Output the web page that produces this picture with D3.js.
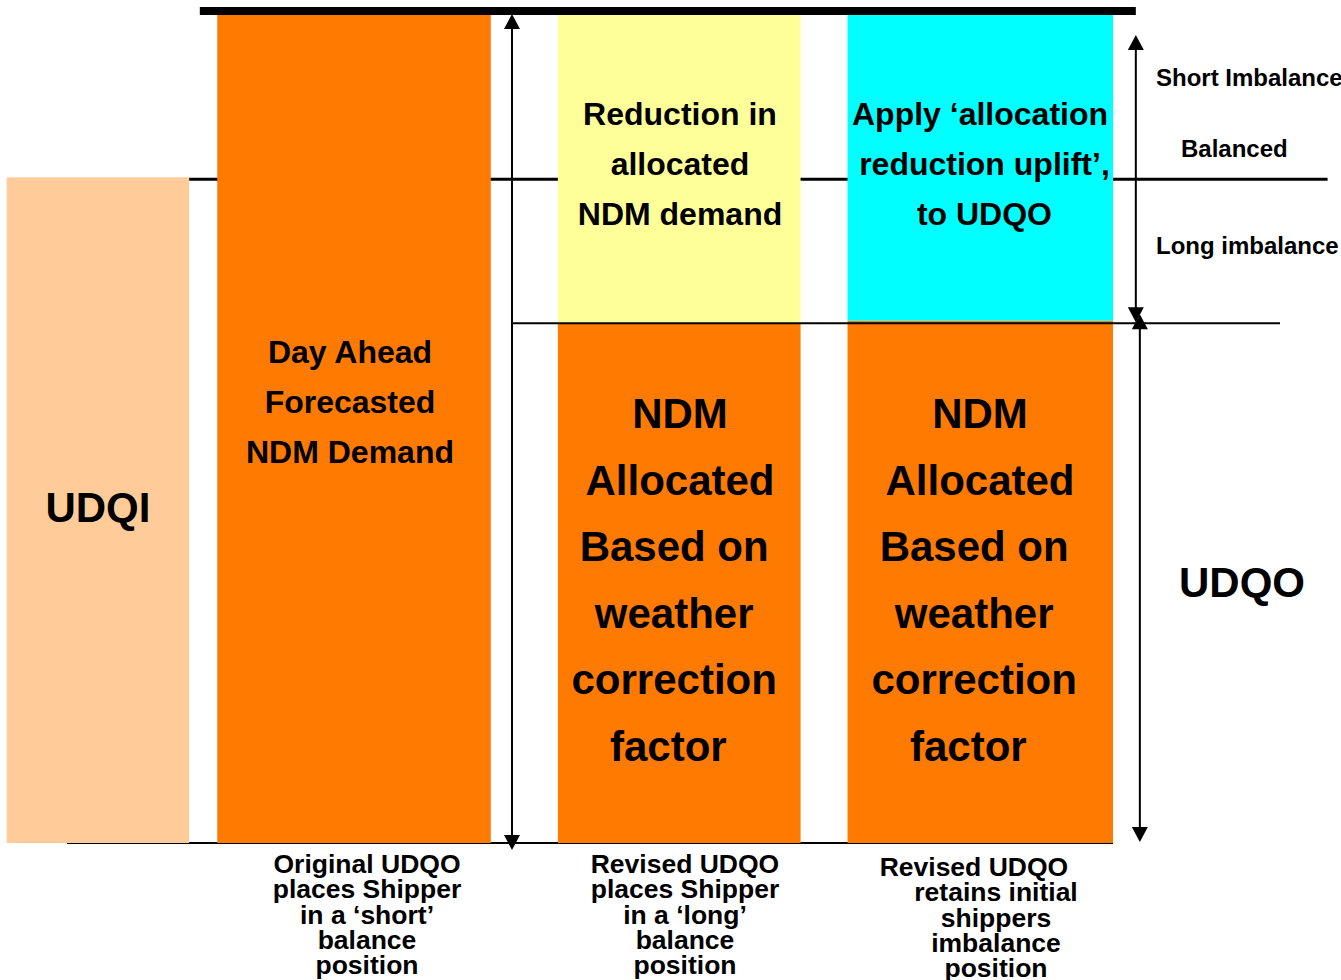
<!DOCTYPE html>
<html>
<head>
<meta charset="utf-8">
<script src="https://cdn.jsdelivr.net/npm/d3@7"></script>
<style>
  html, body { margin: 0; padding: 0; background: #fff; }
  svg { display: block; }
  text { font-family: "Liberation Sans", Arial, sans-serif; font-weight: bold; fill: #000; white-space: pre; }
</style>
</head>
<body>
<svg id="chart" width="1341" height="980"></svg>
<script>
// ---- data (levels in % of the day-ahead forecast) ----
const columns = ["UDQI", "Forecast", "Revised", "Uplifted"];
const columnStart = [0.5, 16.2, 41.6, 63.2];   // horizontal layout units (0-100)
const columnEnd   = [14.1, 36.6, 59.7, 83.0];
// stacked segments: [column, from level, to level, kind]
const segColumn = ["UDQI", "Forecast", "Revised", "Revised", "Uplifted", "Uplifted"];
const segFrom   = [0, 0, 0, 62.7, 0, 63.0];
const segTo     = [80.3, 100, 62.7, 100, 63.0, 100];
const segKind   = ["udqi", "demand", "demand", "reduction", "demand", "uplift"];
const balancedLevel = 80.3;
const allocatedLevel = 62.7;

const topLabels = [
  ["Day Ahead", "Forecasted", "NDM Demand"],
  ["Reduction in", "allocated", "NDM demand"],
  ["Apply \u2018allocation", " reduction uplift\u2019,", " to UDQO"]
];
const bigLines = ["NDM", "Allocated", "Based on ", "weather ", "correction ", "factor  "];
const sideLabels = ["Short Imbalance", "Balanced", "Long imbalance"];
const bottomLabels = [
  ["Original UDQO", "places Shipper", "in a \u2018short\u2019", "balance", "position"],
  ["Revised UDQO", "places Shipper", "in a \u2018long\u2019", "balance", "position"],
  ["Revised UDQO      ", "retains initial", "shippers", "imbalance", "position"]
];

// ---- scales ----
const svg = d3.select("#chart");
const x = d3.scaleLinear().domain([0, 100]).range([0, 1341]);
const y = d3.scaleLinear().domain([0, 100]).range([843, 14]);
const colIdx = c => columns.indexOf(c);
const colors = { udqi: "#FFCC99", demand: "#FF7A00", reduction: "#FFFF99", uplift: "#00FFFF" };

// balanced line (behind bars)
svg.append("line")
  .attr("x1", x(14.1)).attr("x2", x(99.0))
  .attr("y1", y(balancedLevel) + 2).attr("y2", y(balancedLevel) + 2)
  .attr("stroke", "#000").attr("stroke-width", 3);

// bottom baseline
svg.append("line")
  .attr("x1", x(5.0)).attr("x2", x(83.0))
  .attr("y1", y(0)).attr("y2", y(0))
  .attr("stroke", "#000").attr("stroke-width", 2);

// bars
const segs = segColumn.map((c, i) => ({ c, from: segFrom[i], to: segTo[i], kind: segKind[i] }));
svg.selectAll("rect.seg").data(segs).join("rect")
  .attr("class", "seg")
  .attr("x", d => x(columnStart[colIdx(d.c)]))
  .attr("width", d => x(columnEnd[colIdx(d.c)]) - x(columnStart[colIdx(d.c)]))
  .attr("y", d => y(d.to))
  .attr("height", d => y(d.from) - y(d.to))
  .attr("fill", d => colors[d.kind]);

// top thick line
svg.append("line")
  .attr("x1", x(14.9)).attr("x2", x(84.7))
  .attr("y1", y(100) - 3).attr("y2", y(100) - 3)
  .attr("stroke", "#000").attr("stroke-width", 8);

// allocated level line
svg.append("line")
  .attr("x1", x(38.2)).attr("x2", x(95.45))
  .attr("y1", y(allocatedLevel)).attr("y2", y(allocatedLevel))
  .attr("stroke", "#000").attr("stroke-width", 2);

// arrows
function arrow(px, yTop, yBot, heads) {
  const g = svg.append("g");
  g.append("line").attr("x1", px).attr("x2", px).attr("y1", yTop + 4).attr("y2", yBot - 4)
    .attr("stroke", "#000").attr("stroke-width", 2);
  const hw = 8, hl = 15;
  if (heads.top) g.append("path").attr("d", `M${px},${yTop} L${px - hw},${yTop + hl} L${px + hw},${yTop + hl} Z`).attr("fill", "#000");
  if (heads.bot) g.append("path").attr("d", `M${px},${yBot} L${px - hw},${yBot - hl} L${px + hw},${yBot - hl} Z`).attr("fill", "#000");
}
arrow(x(38.18), y(100), y(0) + 7, { top: true, bot: true });
arrow(x(84.7), 35, y(allocatedLevel) - 1, { top: true, bot: true });
arrow(x(85.0), y(allocatedLevel) - 9, y(0) - 1, { top: true, bot: true });

// labels
function center(i) { return (x(columnStart[i]) + x(columnEnd[i])) / 2; }

svg.append("text").attr("x", center(0) + 0).attr("y", 522)
  .attr("text-anchor", "middle").attr("font-size", 42).text("UDQI");

svg.append("text").attr("x", 1242).attr("y", 597)
  .attr("text-anchor", "middle").attr("font-size", 42).text("UDQO");

const topCenters = [350, 680, 980];
const topBase = [363, 125, 125];
topLabels.forEach((lines, k) => {
  lines.forEach((t, j) => {
    svg.append("text").attr("x", topCenters[k]).attr("y", topBase[k] + 50 * j)
      .attr("text-anchor", "middle").attr("font-size", 32).text(t);
  });
});

[680, 980].forEach(cx => {
  bigLines.forEach((t, j) => {
    svg.append("text").attr("x", cx).attr("y", 428 + 66.6 * j)
      .attr("text-anchor", "middle").attr("font-size", 42).text(t);
  });
});

const sideX = [1156, 1181, 1156];
const sideY = [86, 157, 254];
sideLabels.forEach((t, j) => {
  svg.append("text").attr("x", sideX[j]).attr("y", sideY[j]).attr("font-size", 24).text(t);
});

const botCenters = [367, 685, 996];
const botBase = [873, 873, 876];
bottomLabels.forEach((lines, k) => {
  lines.forEach((t, j) => {
    svg.append("text").attr("x", botCenters[k]).attr("y", botBase[k] + 25.3 * j)
      .attr("text-anchor", "middle").attr("font-size", 26.5).text(t);
  });
});
</script>
</body>
</html>
